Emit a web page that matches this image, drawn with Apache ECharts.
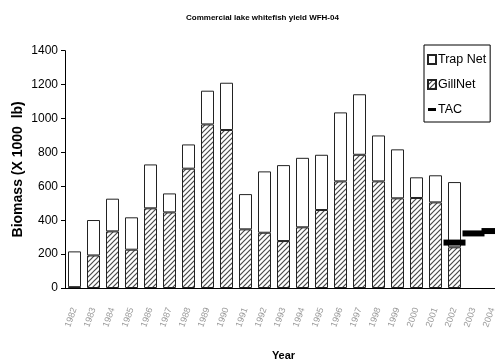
<!DOCTYPE html>
<html>
<head>
<meta charset="utf-8">
<script src="https://cdn.jsdelivr.net/npm/echarts@6/dist/echarts.min.js"></script>
<style>
  html, body { margin: 0; padding: 0; overflow: hidden; background: #fff; }
  #chart { width: 520px; height: 362px; }
</style>
</head>
<body>
<div id="chart"></div>
<script>
// Commercial harvest by gear (x 1000 lb) and total allowable catch
const years = ['1982','1983','1984','1985','1986','1987','1988','1989','1990','1991','1992',
               '1993','1994','1995','1996','1997','1998','1999','2000','2001','2002','2003','2004'];
const gillNet = [5,192,334,226,470,446,704,965,932,346,326,277,358,460,629,786,629,529,531,505,240];
const trapNet = [211,209,193,191,259,112,143,199,279,208,362,448,410,326,407,357,271,289,122,160,385];
const tac = [null,null,null,null,null,null,null,null,null,null,null,null,null,null,null,null,null,null,null,null,268,322,336];
const yTicks = { min: 0, max: 1400, interval: 200 };

// diagonal hatching used for the gill-net segments
function hatchPattern() {
  const c = document.createElement('canvas');
  c.width = 5; c.height = 5;
  const g = c.getContext('2d');
  g.fillStyle = '#fff';
  g.fillRect(0, 0, 5, 5);
  g.strokeStyle = '#4a4a4a';
  g.lineWidth = 1.2;
  g.beginPath();
  g.moveTo(-1, 6); g.lineTo(6, -1);
  g.moveTo(-1, 1); g.lineTo(1, -1);
  g.moveTo(4, 6); g.lineTo(6, 4);
  g.stroke();
  return c;
}
const hatch = { image: hatchPattern(), repeat: 'repeat' };

const chart = echarts.init(document.getElementById('chart'), null, { renderer: 'canvas' });
chart.setOption({
  animation: false,
  backgroundColor: '#fff',
  textStyle: { fontFamily: 'Liberation Sans, Arial, sans-serif' },
  title: {
    text: 'Commercial lake whitefish yield WFH-04',
    left: 181, top: 9,
    textStyle: { fontSize: 8, fontWeight: 'bold', color: '#000' }
  },
  legend: {
    orient: 'vertical',
    left: 424, top: 45,
    width: 68,
    padding: [8, 4, 6, 3],
    itemGap: 12,
    itemWidth: 8, itemHeight: 9,
    borderColor: '#000', borderWidth: 1,
    backgroundColor: '#fff',
    textStyle: { fontSize: 12.5, color: '#000', padding: [0, 0, 0, -3] },
    data: [
      { name: 'Trap Net', icon: 'rect' },
      { name: 'GillNet', icon: 'rect' },
      { name: 'TAC', icon: 'path://M0,0 L8,0 L8,3 L0,3 Z' }
    ]
  },
  grid: {
    left: 65, top: 50.7, width: 437, height: 237.3,
    containLabel: false,
    outerBoundsMode: 'none'
  },
  xAxis: {
    type: 'category',
    data: years,
    name: 'Year',
    nameLocation: 'middle',
    nameGap: 62,
    nameMoveOverlap: false,
    nameTextStyle: { fontSize: 11, fontWeight: 'bold', color: '#000' },
    axisLine: { lineStyle: { color: '#000', width: 1 } },
    axisTick: { length: 4, lineStyle: { color: '#000' } },
    axisLabel: { rotate: 70, fontSize: 9, color: '#999', margin: 20, interval: 0 }
  },
  yAxis: {
    type: 'value',
    min: yTicks.min, max: yTicks.max, interval: yTicks.interval,
    name: 'Biomass (X 1000  lb)',
    nameLocation: 'middle',
    nameGap: 40,
    nameMoveOverlap: false,
    nameTextStyle: { fontSize: 14, fontWeight: 'bold', color: '#000' },
    splitLine: { show: false },
    axisLine: { show: true, lineStyle: { color: '#000', width: 1 } },
    axisTick: { show: true, length: 4, lineStyle: { color: '#000' } },
    axisLabel: { fontSize: 12, color: '#000', margin: 7, formatter: (v) => String(v) }
  },
  series: [
    {
      name: 'GillNet', type: 'bar', stack: 'yield', barWidth: 13,
      data: gillNet,
      itemStyle: { color: hatch, borderColor: '#222', borderWidth: 1 }
    },
    {
      name: 'Trap Net', type: 'bar', stack: 'yield', barWidth: 13,
      data: trapNet,
      itemStyle: { color: '#fff', borderColor: '#222', borderWidth: 1 }
    },
    {
      name: 'TAC', type: 'scatter',
      data: tac,
      symbol: 'rect', symbolSize: [22, 6],
      itemStyle: { color: '#000', opacity: 1 },
      z: 5
    }
  ]
});
</script>
</body>
</html>
